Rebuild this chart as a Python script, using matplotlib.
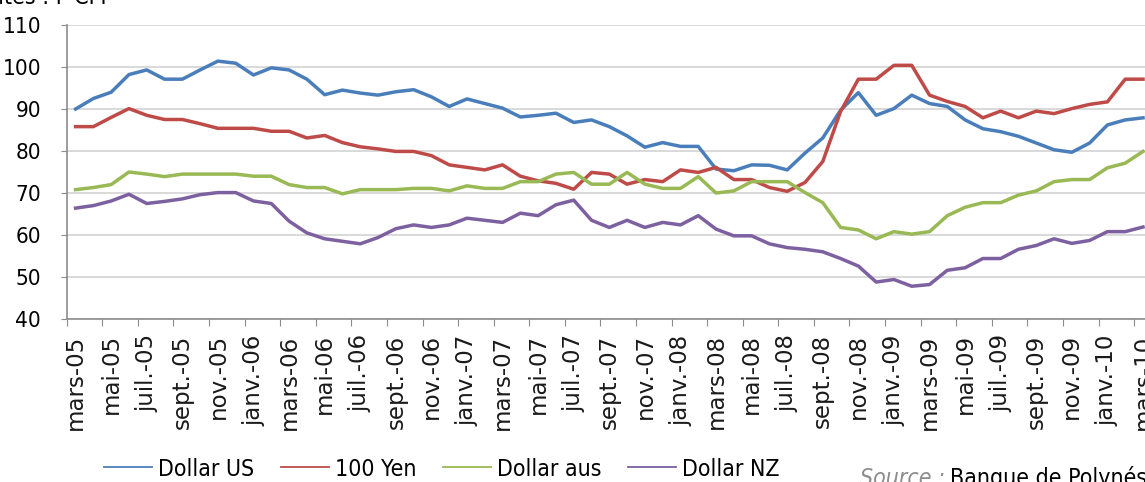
import matplotlib
matplotlib.use("Agg")
import matplotlib.pyplot as plt
import numpy as np
from matplotlib import font_manager
from matplotlib.lines import Line2D

# monthly rates, mars-05 .. mars-10 (61 months)
dollar_us = [90.0, 92.5, 94.0, 98.2, 99.3, 97.1, 97.1, 99.3, 101.4, 100.9,
             98.1, 99.8, 99.3, 97.1, 93.4, 94.5, 93.8, 93.3, 94.1, 94.6,
             92.9, 90.6, 92.4, 91.3, 90.2, 88.1, 88.5, 89.0, 86.8, 87.4,
             85.8, 83.6, 80.9, 82.0, 81.1, 81.1, 75.7, 75.3, 76.7, 76.6,
             75.5, 79.5, 83.1, 89.7, 93.9, 88.5, 90.1, 93.3, 91.3, 90.6,
             87.4, 85.3, 84.6, 83.5, 81.9, 80.3, 79.7, 81.9, 86.2, 87.4,
             87.9]
yen_100 = [85.8, 85.8, 88.0, 90.1, 88.5, 87.5, 87.5, 86.5, 85.4, 85.4,
           85.4, 84.7, 84.7, 83.1, 83.7, 82.0, 81.0, 80.5, 79.9, 79.9,
           78.9, 76.7, 76.1, 75.5, 76.7, 74.0, 72.9, 72.3, 70.9, 74.9,
           74.5, 72.1, 73.2, 72.7, 75.5, 74.9, 76.1, 73.2, 73.2, 71.3,
           70.4, 72.5, 77.5, 89.4, 97.1, 97.1, 100.4, 100.4, 93.3, 91.8,
           90.6, 87.9, 89.5, 87.9, 89.5, 88.9, 90.1, 91.1, 91.7, 97.1,
           97.1]
dollar_aus = [70.8, 71.3, 72.0, 75.0, 74.5, 73.9, 74.5, 74.5, 74.5, 74.5,
              74.0, 74.0, 72.0, 71.3, 71.3, 69.8, 70.8, 70.8, 70.8, 71.1,
              71.1, 70.5, 71.7, 71.1, 71.1, 72.7, 72.7, 74.5, 74.9, 72.1,
              72.1, 74.9, 72.1, 71.1, 71.1, 73.9, 70.0, 70.5, 72.7, 72.7,
              72.7, 70.1, 67.7, 61.8, 61.2, 59.1, 60.8, 60.2, 60.8, 64.6,
              66.6, 67.7, 67.7, 69.5, 70.5, 72.7, 73.2, 73.2, 76.0, 77.1,
              79.9]
dollar_nz = [66.4, 67.0, 68.1, 69.7, 67.5, 68.0, 68.6, 69.6, 70.1, 70.1,
             68.1, 67.5, 63.3, 60.5, 59.1, 58.5, 57.9, 59.4, 61.5, 62.4,
             61.8, 62.4, 64.0, 63.5, 63.0, 65.2, 64.6, 67.2, 68.3, 63.5,
             61.8, 63.5, 61.8, 63.0, 62.4, 64.6, 61.4, 59.8, 59.8, 57.9,
             57.0, 56.6, 56.0, 54.4, 52.6, 48.8, 49.4, 47.8, 48.2, 51.6,
             52.2, 54.4, 54.4, 56.6, 57.5, 59.1, 58.0, 58.7, 60.8, 60.8,
             61.9]

y_ticks = [40, 50, 60, 70, 80, 90, 100, 110]
tick_labels = ['mars-05', 'mai-05', 'juil.-05', 'sept.-05', 'nov.-05',
               'janv.-06', 'mars-06', 'mai-06', 'juil.-06', 'sept.-06', 'nov.-06',
               'janv.-07', 'mars-07', 'mai-07', 'juil.-07', 'sept.-07', 'nov.-07',
               'janv.-08', 'mars-08', 'mai-08', 'juil.-08', 'sept.-08', 'nov.-08',
               'janv.-09', 'mars-09', 'mai-09', 'juil.-09', 'sept.-09', 'nov.-09',
               'janv.-10', 'mars-10']

series_names = ['Dollar US', '100 Yen', 'Dollar aus', 'Dollar NZ']
colors = ['#4a7ebb', '#be4b48', '#98b954', '#7d60a0']

# condensed DejaVu if it is installed, plain otherwise
have_cond = any(f.name == 'DejaVu Sans' and f.stretch == 'condensed'
                for f in font_manager.fontManager.ttflist)
stretch = 'condensed' if have_cond else 'normal'
k = 0.92 if have_cond else 0.85


def nfont(size, style='normal'):
    return font_manager.FontProperties(family='DejaVu Sans', stretch=stretch,
                                       style=style, size=size * k)


W, H = 1145, 482
fig = plt.figure(figsize=(W / 100, H / 100), dpi=100)
left, right, top, bottom = 66.7, 1151.9, 25, 319
ax = fig.add_axes([left / W, 1 - bottom / H, (right - left) / W, (bottom - top) / H])

x = np.arange(len(dollar_us))
for vals, c in zip([dollar_us, yen_100, dollar_aus, dollar_nz], colors):
    ax.plot(x, vals, color=c, lw=2.5, solid_joinstyle='round', zorder=3)

ax.set_xlim(-0.5, 60.5)
ax.set_ylim(40, 110)
ax.set_yticks(y_ticks)
ax.grid(axis='y', color='#d9d9d9', lw=1.4, zorder=0)
ax.set_axisbelow(True)

for s in ['top', 'right']:
    ax.spines[s].set_visible(False)
for s in ['left', 'bottom']:
    ax.spines[s].set_color('#8c8c8c')
    ax.spines[s].set_linewidth(1.2)

ax.set_xticks(np.arange(-0.5, 61, 2))
ax.set_xticklabels([])
ax.set_xticks(np.arange(0, 61, 2), minor=True)
ax.set_xticklabels(tick_labels, minor=True, rotation=90, fontsize=16.5,
                   family='DejaVu Sans', color='#1a1a1a')
ax.tick_params(axis='x', which='major', length=5, color='#8c8c8c', direction='out')
ax.tick_params(axis='x', which='minor', length=0, pad=11)
ax.tick_params(axis='y', length=4.5, color='#8c8c8c', pad=14, labelsize=17.5 * k)
for t in ax.get_yticklabels():
    t.set_family('DejaVu Sans')
    t.set_stretch(stretch)

handles = [Line2D([], [], color=c, lw=1.3) for c in colors]
fig.legend(handles, series_names, loc='center', bbox_to_anchor=(441.5 / W, 1 - 469 / H),
           ncol=4, frameon=False, prop=nfont(18),
           handlelength=2.1, handletextpad=0.25, columnspacing=1.15,
           borderpad=0, borderaxespad=0)

fig.text(113 / W, 1 - 4.5 / H, 'Unités : F CFP', ha='right', va='baseline',
         fontproperties=nfont(18))
fig.text(860 / W, 1 - 485 / H, 'Source :', ha='left', va='baseline',
         fontproperties=nfont(18, 'oblique'), color='#8c8c8c')
fig.text(950 / W, 1 - 485 / H, 'Banque de Polynésie', ha='left', va='baseline',
         fontproperties=nfont(18), color='black')

fig.savefig('out.png', dpi=100)
